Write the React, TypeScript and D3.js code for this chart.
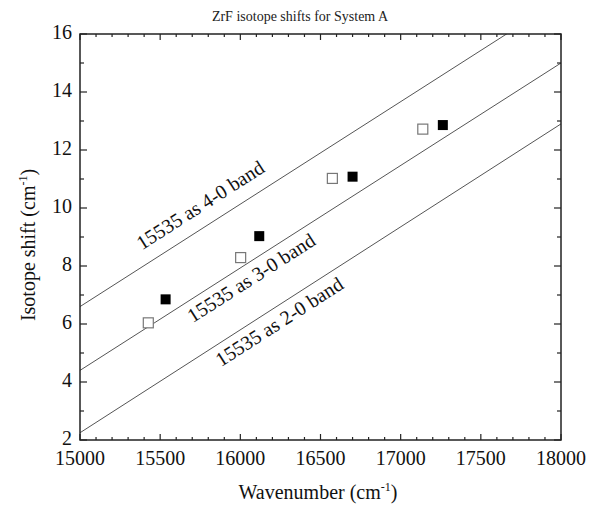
import React from "react";
import * as d3 from "d3";

const title = "ZrF isotope shifts for System A";
const xTicks = [15000, 15500, 16000, 16500, 17000, 17500, 18000];
const yTicks = [2, 4, 6, 8, 10, 12, 14, 16];

// Band lines: isotope shift at 15000 and 18000 cm-1
const bandNames = ["15535 as 4-0 band", "15535 as 3-0 band", "15535 as 2-0 band"];
const bandStart = [6.6, 4.4, 2.25];
const bandEnd = [17.2, 15.0, 12.9];
const bandLabelAt = [15820, 16020, 16195];
const bandLabelSide = [1, -1, -1]; // 1 above, -1 below

const openX = [15426, 16002, 16574, 17138];
const openY = [6.04, 8.29, 11.02, 12.72];
const filledX = [15534, 16118, 16700, 17263];
const filledY = [6.85, 9.03, 11.08, 12.86];

const W = 589, H = 506;
const M = { left: 80, right: 561, top: 34, bottom: 440 };
const FONT = "'Liberation Serif', 'DejaVu Serif', serif";
const ts = { fontFamily: FONT };

export default function App() {
  const x = d3.scaleLinear().domain([15000, 18000]).range([M.left, M.right]);
  const y = d3.scaleLinear().domain([2, 16]).range([M.bottom, M.top]);
  const xMinor = d3.range(15000, 18001, 100).filter((v) => v % 500 !== 0);
  const yMinor = d3.range(3, 16, 2);
  const line = d3.line<[number, number]>().x((d) => x(d[0])).y((d) => y(d[1]));

  return (
    <svg width={W} height={H} style={{ position: "absolute", left: 0, top: 0, background: "#fff", fontFamily: FONT }}>
      <defs>
        <clipPath id="plot">
          <rect x={M.left} y={M.top} width={M.right - M.left} height={M.bottom - M.top} />
        </clipPath>
      </defs>
      <text x={300} y={21} textAnchor="middle" fontSize={14} fill="#222" style={ts}>{title}</text>

      <g clipPath="url(#plot)">
        {bandNames.map((name, i) => (
          <path key={name} d={line([[15000, bandStart[i]], [18000, bandEnd[i]]]) || ""} stroke="#555" strokeWidth={1} fill="none" />
        ))}
      </g>

      {bandNames.map((name, i) => {
        const slope = (bandEnd[i] - bandStart[i]) / 3000;
        const wn = bandLabelAt[i];
        const v = bandStart[i] + slope * (wn - 15000);
        const px = x(wn), py = y(v);
        const ang = (Math.atan2(y(bandStart[i]) - y(bandEnd[i]), x(18000) - x(15000)) * 180) / Math.PI;
        const dy = bandLabelSide[i] > 0 ? -14 : 21;
        return (
          <text key={name} transform={`translate(${px},${py}) rotate(${-ang})`} y={dy} textAnchor="middle" fontSize={20} fill="#111" style={ts}>
            {name}
          </text>
        );
      })}

      {openX.map((v, i) => (
        <rect key={"o" + i} x={x(v) - 5} y={y(openY[i]) - 5} width={10} height={10} fill="#fff" stroke="#777" strokeWidth={1.2} />
      ))}
      {filledX.map((v, i) => (
        <rect key={"f" + i} x={x(v) - 5} y={y(filledY[i]) - 5} width={10} height={10} fill="#000" />
      ))}

      <g stroke="#222" strokeWidth={1.2}>
        {xTicks.map((t) => (
          <g key={"xt" + t}>
            <line x1={x(t)} x2={x(t)} y1={M.bottom} y2={M.bottom - 6} />
            <line x1={x(t)} x2={x(t)} y1={M.top} y2={M.top + 6} />
          </g>
        ))}
        {xMinor.map((t) => (
          <g key={"xm" + t}>
            <line x1={x(t)} x2={x(t)} y1={M.bottom} y2={M.bottom - 3} />
            <line x1={x(t)} x2={x(t)} y1={M.top} y2={M.top + 3} />
          </g>
        ))}
        {yTicks.map((t) => (
          <g key={"yt" + t}>
            <line x1={M.left} x2={M.left + 7} y1={y(t)} y2={y(t)} />
            <line x1={M.right} x2={M.right - 7} y1={y(t)} y2={y(t)} />
          </g>
        ))}
        {yMinor.map((t) => (
          <g key={"ym" + t}>
            <line x1={M.left} x2={M.left + 4} y1={y(t)} y2={y(t)} />
            <line x1={M.right} x2={M.right - 4} y1={y(t)} y2={y(t)} />
          </g>
        ))}
      </g>
      <rect x={M.left} y={M.top} width={M.right - M.left} height={M.bottom - M.top} fill="none" stroke="#222" strokeWidth={1.5} />

      {xTicks.map((t) => (
        <text key={"xl" + t} x={x(t)} y={M.bottom + 25} textAnchor="middle" fontSize={20} fill="#111" style={ts}>{t}</text>
      ))}
      {yTicks.map((t) => (
        <text key={"yl" + t} x={M.left - 8} y={y(t) + 5} textAnchor="end" fontSize={20} fill="#111" style={ts}>{t}</text>
      ))}

      <text x={318} y={499} textAnchor="middle" fontSize={20} fill="#111" style={ts}>
        Wavenumber (cm<tspan dy={-8} fontSize={12}>-1</tspan><tspan dy={8}>)</tspan>
      </text>
      <text transform={`translate(35,245) rotate(-90)`} textAnchor="middle" fontSize={20} fill="#111" style={ts}>
        Isotope shift (cm<tspan dy={-8} fontSize={12}>-1</tspan><tspan dy={8}>)</tspan>
      </text>
    </svg>
  );
}
